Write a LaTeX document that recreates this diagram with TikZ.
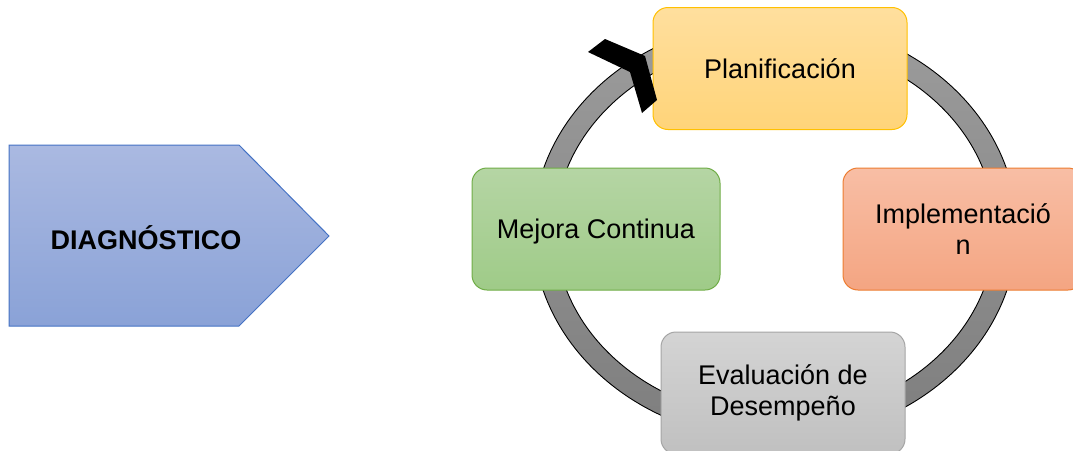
\documentclass[tikz,border=0pt]{standalone}
\usepackage{fontspec}
\setmainfont{Liberation Sans}
\usetikzlibrary{shadings}
\definecolor{planT}{HTML}{FFDF9E}
\definecolor{planB}{HTML}{FFD479}
\definecolor{planD}{HTML}{FFC000}
\definecolor{implT}{HTML}{F8BEA5}
\definecolor{implB}{HTML}{F4A582}
\definecolor{implD}{HTML}{ED7D31}
\definecolor{evalT}{HTML}{D4D4D4}
\definecolor{evalB}{HTML}{C0C0C0}
\definecolor{evalD}{HTML}{A5A5A5}
\definecolor{mejT}{HTML}{B5D5A4}
\definecolor{mejB}{HTML}{9FCB88}
\definecolor{mejD}{HTML}{70AD47}
\definecolor{diaT}{HTML}{AAB9E1}
\definecolor{diaB}{HTML}{8AA2D7}
\definecolor{diaD}{HTML}{4472C4}
\definecolor{ringT}{HTML}{9C9C9C}
\definecolor{ringB}{HTML}{7E7E7E}
\begin{document}
\begin{tikzpicture}[x=1pt,y=-1pt,
  txt/.style={font=\fontsize{27}{31}\selectfont, align=center, text=black},
  stagebox/.style={txt, rounded corners=15pt, line width=1pt, minimum width=#1, minimum height=122pt, inner sep=0pt},
]
\clip (0,0) rectangle (1073,450);
\fill[white] (0,0) rectangle (1073,450);

% ring
\shade[top color=ringT, bottom color=ringB, even odd rule]
  (775,230) ellipse [x radius=242pt, y radius=210pt]
  (775,230) ellipse [x radius=220pt, y radius=188pt];
\draw[black, line width=0.9pt] (775,230) ellipse [x radius=242pt, y radius=210pt];
\draw[black, line width=0.9pt] (775,230) ellipse [x radius=220pt, y radius=188pt];

% diagnostic arrow
\shade[top color=diaT, bottom color=diaB, draw=diaD, line width=1pt]
  (9,145) -- (239,145) -- (329,236) -- (239,326) -- (9,326) -- cycle;
\node[txt, font=\fontsize{27}{31}\selectfont\bfseries] (diag) at (146,238) {DIAGNÓSTICO};

% stages
\node[stagebox=254pt, draw=planD, top color=planT, bottom color=planB] (plan) at (780,68.5) {Planificación};
\node[stagebox=240pt, draw=implD, top color=implT, bottom color=implB] (impl) at (963,229) {Implementació\\n};
\node[stagebox=244pt, draw=evalD, top color=evalT, bottom color=evalB] (eval) at (783,393) {Evaluación de\\Desempeño};
\node[stagebox=248pt, draw=mejD, top color=mejT, bottom color=mejB, text depth=0pt] (mej) at (596,229) {Mejora Continua};

% arrow head of the cycle
\fill[black] (588,52) -- (605,39) -- (645,56) -- (657,100) -- (642,113) -- (630,72) -- cycle;
\end{tikzpicture}
\end{document}
